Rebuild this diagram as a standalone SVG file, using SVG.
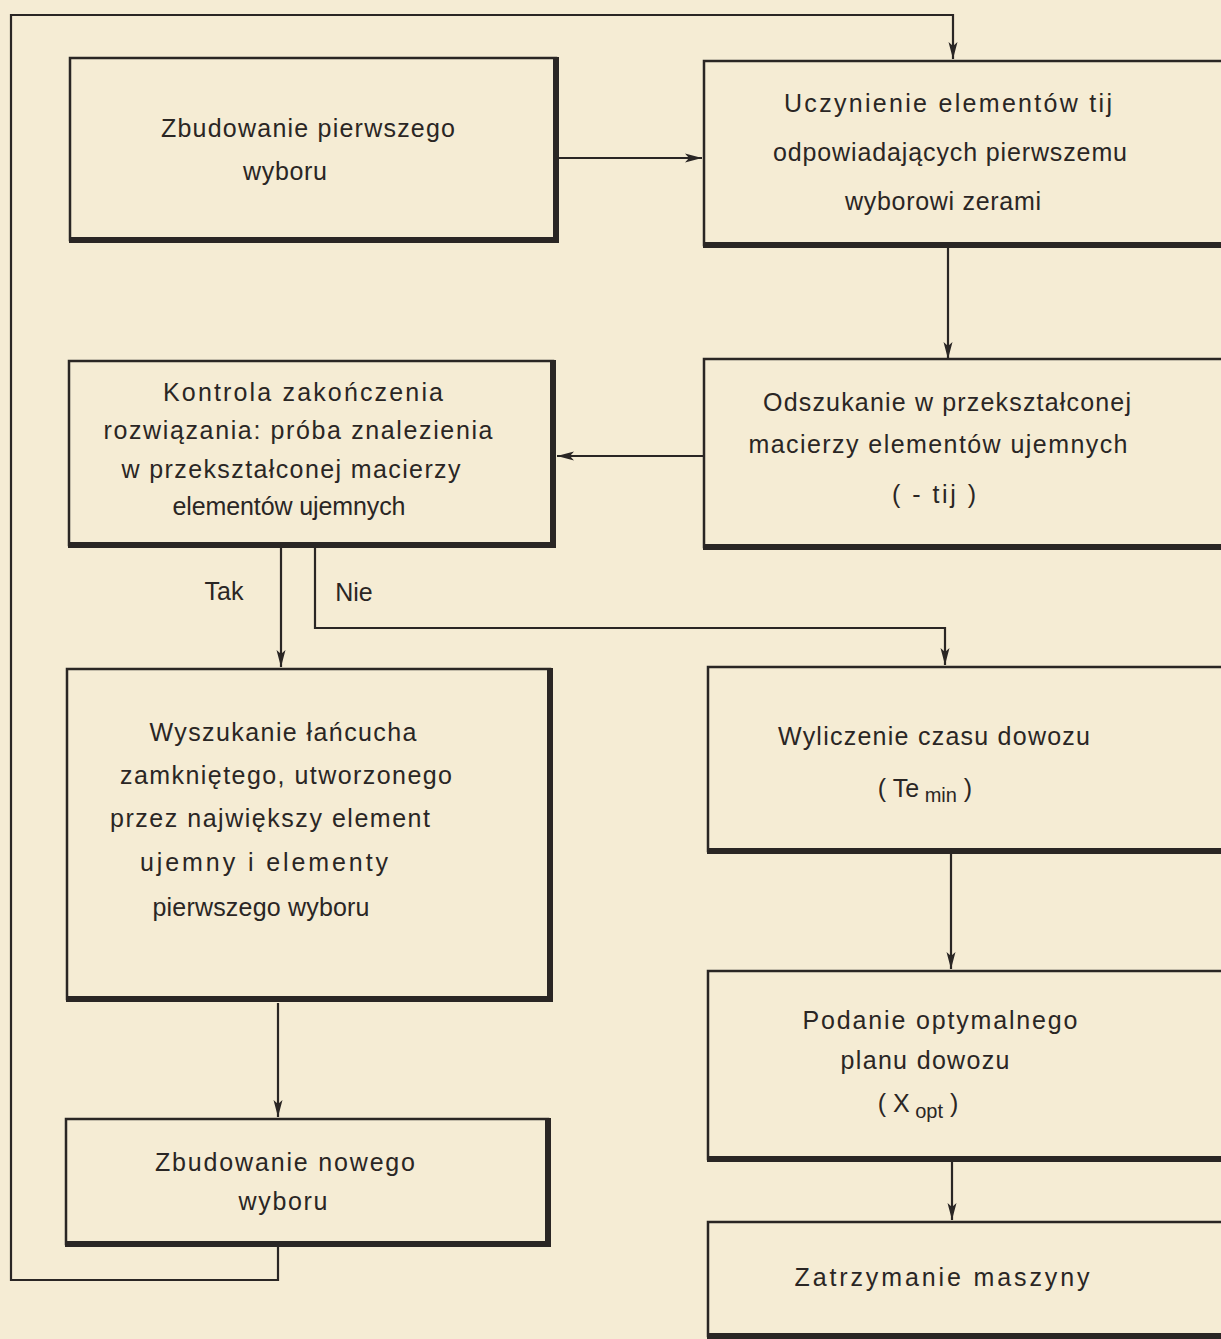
<svg xmlns="http://www.w3.org/2000/svg" width="1221" height="1339" viewBox="0 0 1221 1339">
<style>
.bg{fill:#f5ecd4}
.box{fill:none;stroke:#2a2624;stroke-width:2.5}
.sh{fill:none;stroke:#2a2624;stroke-width:6;stroke-linecap:square}
.ln{fill:none;stroke:#2a2624;stroke-width:2.2}
text{font-family:"Liberation Sans","DejaVu Sans",sans-serif;font-size:25px;fill:#2a2624;text-anchor:middle}
.sub{font-size:20px}
</style>
<defs>
<marker id="ah" markerWidth="18" markerHeight="12" refX="17" refY="6" orient="auto" markerUnits="userSpaceOnUse">
<path d="M0,1.5 L17,6 L0,10.5 L4,6 Z" fill="#2a2624"/>
</marker>
</defs>
<rect class="bg" x="0" y="0" width="1221" height="1339"/>

<g id="connectors">
<path class="ln" d="M278,1246 V1280 H11 V15 H953 V59" marker-end="url(#ah)"/>
<path class="ln" d="M558,158 H702" marker-end="url(#ah)"/>
<path class="ln" d="M948,248 V359" marker-end="url(#ah)"/>
<path class="ln" d="M704,456 H557" marker-end="url(#ah)"/>
<path class="ln" d="M281,548 V667" marker-end="url(#ah)"/>
<path class="ln" d="M315,548 V628 H945 V665" marker-end="url(#ah)"/>
<path class="ln" d="M278,1003 V1117" marker-end="url(#ah)"/>
<path class="ln" d="M951,854 V969" marker-end="url(#ah)"/>
<path class="ln" d="M952,1162 V1220" marker-end="url(#ah)"/>
<text x="224" y="600">Tak</text>
<text x="354" y="601">Nie</text>
</g>

<g id="n1">
<rect class="box" x="70" y="58" width="486" height="182"/>
<path class="sh" d="M72,240 H556 V60"/>
<text x="308" y="137" textLength="294" lengthAdjust="spacing">Zbudowanie pierwszego</text>
<text x="285" y="180" textLength="84" lengthAdjust="spacing">wyboru</text>
</g>

<g id="n2">
<rect class="box" x="704" y="61" width="530" height="184"/>
<path class="sh" d="M706,245 H1230"/>
<text x="948" y="112" textLength="328" lengthAdjust="spacing">Uczynienie elementów tij</text>
<text x="950" y="161" textLength="354" lengthAdjust="spacing">odpowiadających pierwszemu</text>
<text x="943" y="210" textLength="196" lengthAdjust="spacing">wyborowi zerami</text>
</g>

<g id="n3">
<rect class="box" x="69" y="361" width="484" height="184"/>
<path class="sh" d="M71,545 H553 V363"/>
<text x="303" y="401" textLength="280" lengthAdjust="spacing">Kontrola zakończenia</text>
<text x="298" y="439" textLength="389" lengthAdjust="spacing">rozwiązania: próba znalezienia</text>
<text x="291" y="478" textLength="339" lengthAdjust="spacing">w przekształconej macierzy</text>
<text x="289" y="515" textLength="233" lengthAdjust="spacing">elementów ujemnych</text>
</g>

<g id="n4">
<rect class="box" x="704" y="359" width="530" height="188"/>
<path class="sh" d="M706,547 H1230"/>
<text x="947" y="411" textLength="368" lengthAdjust="spacing">Odszukanie w przekształconej</text>
<text x="938" y="453" textLength="379" lengthAdjust="spacing">macierzy elementów ujemnych</text>
<text x="934" y="503" textLength="84" lengthAdjust="spacing">( - tij )</text>
</g>

<g id="n5">
<rect class="box" x="67" y="669" width="483" height="330"/>
<path class="sh" d="M69,999 H550 V671"/>
<text x="283" y="741" textLength="267" lengthAdjust="spacing">Wyszukanie łańcucha</text>
<text x="286" y="784" textLength="332" lengthAdjust="spacing">zamkniętego, utworzonego</text>
<text x="270" y="827" textLength="320" lengthAdjust="spacing">przez największy element</text>
<text x="264" y="871" textLength="248" lengthAdjust="spacing">ujemny i elementy</text>
<text x="261" y="916" textLength="217" lengthAdjust="spacing">pierwszego wyboru</text>
</g>

<g id="n6">
<rect class="box" x="708" y="667" width="526" height="184"/>
<path class="sh" d="M710,851 H1230"/>
<text x="934" y="745" textLength="312" lengthAdjust="spacing">Wyliczenie czasu dowozu</text>
<text x="925" y="797">(  Te<tspan class="sub" dy="5"> min</tspan><tspan dy="-5">  )</tspan></text>
</g>

<g id="n7">
<rect class="box" x="66" y="1119" width="482" height="125"/>
<path class="sh" d="M68,1244 H548 V1121"/>
<text x="285" y="1171" textLength="260" lengthAdjust="spacing">Zbudowanie nowego</text>
<text x="283" y="1210" textLength="89" lengthAdjust="spacing">wyboru</text>
</g>

<g id="n8">
<rect class="box" x="708" y="971" width="526" height="188"/>
<path class="sh" d="M710,1159 H1230"/>
<text x="940" y="1029" textLength="275" lengthAdjust="spacing">Podanie optymalnego</text>
<text x="925" y="1069" textLength="169" lengthAdjust="spacing">planu dowozu</text>
<text x="918" y="1112">(  X<tspan class="sub" dy="6"> opt</tspan><tspan dy="-6"> )</tspan></text>
</g>

<g id="n9">
<rect class="box" x="708" y="1222" width="526" height="114"/>
<path class="sh" d="M710,1336 H1230"/>
<text x="942" y="1286" textLength="295" lengthAdjust="spacing">Zatrzymanie maszyny</text>
</g>
</svg>
